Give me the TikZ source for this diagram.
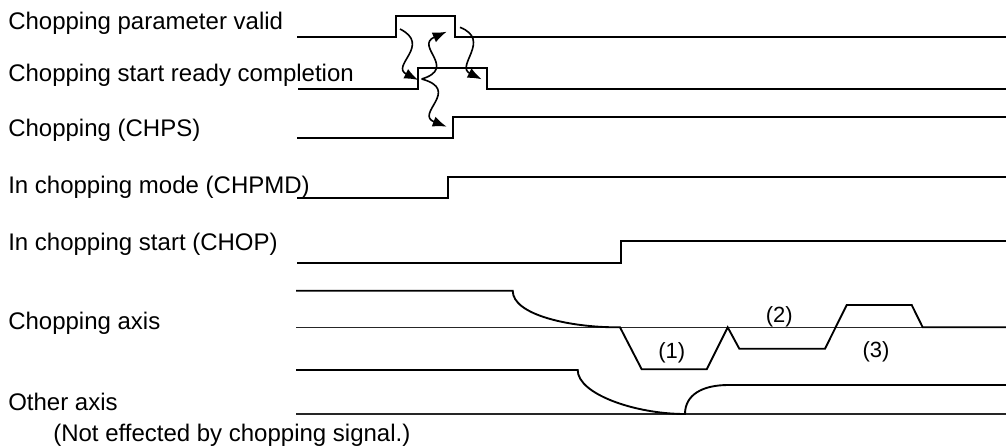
\documentclass[tikz,border=0pt]{standalone}
\usepackage{fontspec}
\setmainfont{Liberation Sans}
\usetikzlibrary{arrows.meta}
\begin{document}
\begin{tikzpicture}[x=0.75pt,y=-0.75pt,
  sig/.style={line width=1.4pt,line join=miter},
  axisline/.style={line width=0.9pt,black!85},
  lbl/.style={anchor=base west,inner sep=0pt,font=\fontsize{18}{21}\selectfont},
  num/.style={inner sep=0pt,font=\fontsize{16.5}{19}\selectfont},
  wave/.style={line width=1.2pt,-{Latex[length=10.5pt,width=8pt]}}]
\useasboundingbox (0,0) rectangle (1006,447);
% labels
\node[lbl] (t1) at (8,29.3) {Chopping parameter valid};
\node[lbl] (t2) at (8,81.7) {Chopping start ready completion};
\node[lbl] (t3) at (8,136.7) {Chopping (CHPS)};
\node[lbl] (t4) at (8,193.3) {In chopping mode (CHPMD)};
\node[lbl] (t5) at (8,250) {In chopping start (CHOP)};
\node[lbl] (t6) at (8,329.3) {Chopping axis};
\node[lbl] (t7) at (8,410.7) {Other axis};
\node[lbl] (t8) at (53,441.5) {(Not effected by chopping signal.)};
% signals
\draw[sig] (297,37.3) -- (395.7,37.3) -- (395.7,15.7) -- (455,15.7) -- (455,37.3) -- (1006,37.3);
\draw[sig] (298,89.3) -- (418.3,89.3) -- (418.3,67.7) -- (486.7,67.7) -- (486.7,89.3) -- (1006,89.3);
\draw[sig] (297,138.3) -- (453.3,138.3) -- (453.3,116.7) -- (1006,116.7);
\draw[sig] (297,198.3) -- (447.7,198.3) -- (447.7,176.7) -- (1006,176.7);
\draw[sig] (297,262.7) -- (620.7,262.7) -- (620.7,241) -- (1006,241);
% chopping axis
\draw[axisline] (296,327.3) -- (1006,327.3);
\draw[sig] (296,290.7) -- (512.7,290.7) .. controls (512.7,315) and (570,327.3) .. (616.7,327.3)
  -- (620,327.3) -- (641.7,369.3) -- (706.7,369.3) -- (727.7,327.3) -- (739.3,348.7)
  -- (825,348.7) -- (846.7,305) -- (911.7,305) -- (922.7,327.3) -- (1006,327.3);
\node[num] (n1) at (671.7,352.7) {(1)};
\node[num] (n2) at (779.3,316.7) {(2)};
\node[num] (n3) at (876,351.7) {(3)};
% other axis
\draw[axisline] (296,414) -- (1006,414);
\draw[sig] (296,370) -- (577.7,370) .. controls (577.7,394) and (635,414) .. (685,414)
  .. controls (685,395) and (702,385) .. (728.3,385) -- (1006,385);
% wavy arrows
\coordinate (a1s) at (400,29);
\coordinate (a1e) at (418.3,80);
\coordinate (a2s) at (421.7,79);
\coordinate (a2e) at (446.7,31.7);
\coordinate (a3s) at (460,27.3);
\coordinate (a3e) at (481.7,79.3);
\coordinate (a4e) at (446.7,126.7);
\draw[wave] (a1s) .. controls (432,45) and (390,66) .. (a1e);
\draw[wave] (a2s) .. controls (458,68) and (414,46) .. (a2e);
\draw[wave] (a3s) .. controls (492,40) and (455,66) .. (a3e);
\draw[wave] (a2s) .. controls (462,90) and (414,114) .. (a4e);
\end{tikzpicture}
\end{document}
